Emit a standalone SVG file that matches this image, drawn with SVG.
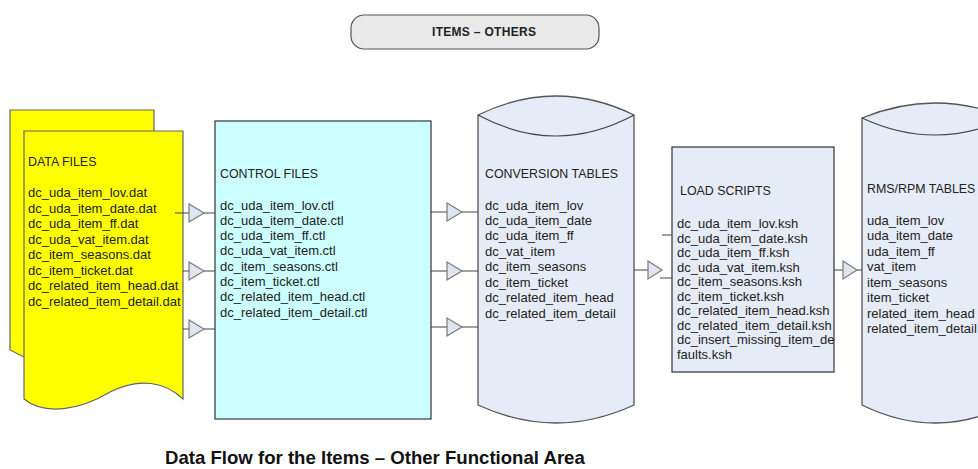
<svg xmlns="http://www.w3.org/2000/svg" width="978" height="469" viewBox="0 0 978 469">
<style>
text{font-family:"Liberation Sans",Arial,sans-serif;fill:#222}
.item{font-size:13px}
.hdr{font-size:12.4px}
.ln{stroke:#444;stroke-width:1.2;fill:none}
.tri{fill:#dfe6f0;stroke:#7a7a7a;stroke-width:1.2}
.cyl{fill:#e6ecf7;stroke:#555;stroke-width:1.3}
</style>
<rect width="978" height="469" fill="#fff"/>
<g id="title">
<rect x="351" y="15" width="248" height="34" rx="13" fill="#e9e9e9" stroke="#555" stroke-width="1.2"/>
<text x="432" y="36" style="font-size:12px;font-weight:bold;letter-spacing:0.3px">ITEMS – OTHERS</text>
</g>
<g id="data-files">
<path d="M10,110 H154 V360 L24,357 L10,350 Z" fill="#ffff00" stroke="#666" stroke-width="1.2"/>
<path d="M24,131 H183 V399 C165,382 140,377 110,392 C80,410 45,416 24,399 Z" fill="#ffff00" stroke="#666" stroke-width="1.2"/>
<text class="hdr" x="28" y="166">DATA FILES</text>
<text class="item" x="28" y="197">dc_uda_item_lov.dat</text>
<text class="item" x="28" y="212.5">dc_uda_item_date.dat</text>
<text class="item" x="28" y="228">dc_uda_item_ff.dat</text>
<text class="item" x="28" y="243.5">dc_uda_vat_item.dat</text>
<text class="item" x="28" y="259">dc_item_seasons.dat</text>
<text class="item" x="28" y="274.5">dc_item_ticket.dat</text>
<text class="item" x="28" y="290">dc_related_item_head.dat</text>
<text class="item" x="28" y="305.5">dc_related_item_detail.dat</text>
</g>
<g id="control-files">
<rect x="215" y="121" width="216" height="298" fill="#ccffff" stroke="#333" stroke-width="1.2"/>
<text class="hdr" x="220" y="177.5">CONTROL FILES</text>
<text class="item" x="220" y="209.5">dc_uda_item_lov.ctl</text>
<text class="item" x="220" y="224.8">dc_uda_item_date.ctl</text>
<text class="item" x="220" y="240.1">dc_uda_item_ff.ctl</text>
<text class="item" x="220" y="255.4">dc_uda_vat_item.ctl</text>
<text class="item" x="220" y="270.7">dc_item_seasons.ctl</text>
<text class="item" x="220" y="286">dc_item_ticket.ctl</text>
<text class="item" x="220" y="301.3">dc_related_item_head.ctl</text>
<text class="item" x="220" y="316.6">dc_related_item_detail.ctl</text>
</g>
<g id="conversion-tables">
<path class="cyl" d="M478,115 Q556,77 634,115 V405 Q556,441 478,405 Z"/>
<path class="ln" d="M478,115 Q556,157 634,115" stroke="#555"/>
<text class="hdr" x="485" y="177.5">CONVERSION TABLES</text>
<text class="item" x="485" y="209.5">dc_uda_item_lov</text>
<text class="item" x="485" y="224.8">dc_uda_item_date</text>
<text class="item" x="485" y="240.3">dc_uda_item_ff</text>
<text class="item" x="485" y="255.6">dc_vat_item</text>
<text class="item" x="485" y="271">dc_item_seasons</text>
<text class="item" x="485" y="286.5">dc_item_ticket</text>
<text class="item" x="485" y="302">dc_related_item_head</text>
<text class="item" x="485" y="317.5">dc_related_item_detail</text>
</g>
<g id="load-scripts">
<rect x="672" y="147" width="162" height="225" fill="#e6ecf7" stroke="#333" stroke-width="1.2"/>
<text class="hdr" x="680" y="194.5">LOAD SCRIPTS</text>
<text class="item" x="677" y="227.8">dc_uda_item_lov.ksh</text>
<text class="item" x="677" y="242.6">dc_uda_item_date.ksh</text>
<text class="item" x="677" y="257.2">dc_uda_item_ff.ksh</text>
<text class="item" x="677" y="271.6">dc_uda_vat_item.ksh</text>
<text class="item" x="677" y="286.2">dc_item_seasons.ksh</text>
<text class="item" x="677" y="300.8">dc_item_ticket.ksh</text>
<text class="item" x="677" y="315.3">dc_related_item_head.ksh</text>
<text class="item" x="677" y="329.8">dc_related_item_detail.ksh</text>
<text class="item" x="677" y="344.4">dc_insert_missing_item_de</text>
<text class="item" x="677" y="359">faults.ksh</text>
</g>
<g id="rms-rpm-tables">
<path class="cyl" d="M862,118 Q935,88 1008,118 V405 Q935,441 862,405 Z"/>
<path class="ln" d="M862,118 Q935,152 1008,118" stroke="#555"/>
<text class="hdr" x="867" y="192.5">RMS/RPM TABLES</text>
<text class="item" x="867" y="224.5">uda_item_lov</text>
<text class="item" x="867" y="240">uda_item_date</text>
<text class="item" x="867" y="255.5">uda_item_ff</text>
<text class="item" x="867" y="271">vat_item</text>
<text class="item" x="867" y="286.5">item_seasons</text>
<text class="item" x="867" y="302">item_ticket</text>
<text class="item" x="867" y="317.5">related_item_head</text>
<text class="item" x="867" y="333">related_item_detail</text>
</g>
<g id="connectors">
<path class="ln" d="M175,213 H189 M204,213 H215 M183,271 H189 M204,271 H215 M183,329 H189 M204,329 H215"/>
<polygon class="tri" points="189,204 204,213 189,222"/>
<polygon class="tri" points="189,262 204,271 189,280"/>
<polygon class="tri" points="189,320 204,329 189,338"/>
<path class="ln" d="M431,212 H447 M462,212 H478 M431,271 H447 M462,271 H478 M431,327 H447 M462,327 H478"/>
<polygon class="tri" points="447,203 462,212 447,221"/>
<polygon class="tri" points="447,262 462,271 447,280"/>
<polygon class="tri" points="447,318 462,327 447,336"/>
<path class="ln" d="M634,270 H648 M662,235 H672 M660,278 H672"/>
<polygon class="tri" points="648,261 662,270 648,279"/>
<path class="ln" d="M834,270 H843 M857,270 H862"/>
<polygon class="tri" points="843,261 857,270 843,279"/>
</g>
<text x="165" y="464" style="font-size:18.6px;font-weight:bold;fill:#111">Data Flow for the Items – Other Functional Area</text>
</svg>
